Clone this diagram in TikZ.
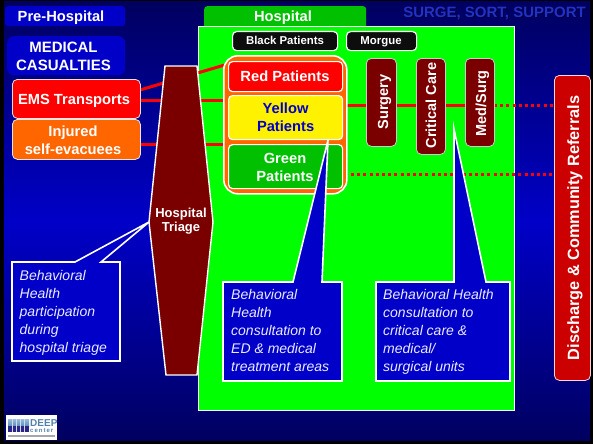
\documentclass[tikz,border=0pt]{standalone}
\usepackage{fontspec}
\setmainfont{Liberation Sans}
\definecolor{navy}{HTML}{000060}
\definecolor{midblue}{HTML}{0000C8}
\definecolor{hgreen}{HTML}{00FF00}
\definecolor{dgreen}{HTML}{00C000}
\definecolor{maroon}{HTML}{7A0000}
\definecolor{orangeb}{HTML}{FF6600}
\definecolor{dischg}{HTML}{CC0000}
\definecolor{titleblue}{HTML}{2232C8}
\definecolor{logoblue}{HTML}{5C8FC0}
\definecolor{logodark}{HTML}{2C2488}
\tikzset{
  tab/.style={rounded corners=3pt,fill=#1,draw=none},
  lab/.style={font=\bfseries\fontsize{#1}{18}\selectfont,text=white,align=center,inner sep=0pt},
  baselab/.style={font=\bfseries\fontsize{#1}{18}\selectfont,text=white,inner sep=0pt,anchor=base},
  pbox/.style={rounded corners=4pt,draw=white,line width=1.2pt,fill=#1},
  entrybox/.style={rounded corners=5pt,draw=white!80!gray,line width=0.8pt,fill=#1},
  unitbox/.style={rounded corners=5pt,draw=white!80!black,line width=0.8pt,fill=maroon},
  blackbox/.style={fill=black!95,draw=white,line width=1.2pt,rounded corners=4pt},
  callout/.style={draw=white,line width=1.6pt,fill=midblue,miter limit=10},
  note/.style={font=\itshape\fontsize{14}{18}\selectfont,text=white!92!blue,align=left,anchor=north west,inner sep=0pt},
  flow/.style={draw=red,line width=3pt},
  dotflow/.style={draw=red,line width=3pt,dash pattern=on 3pt off 3.2pt},
}
\begin{document}
\begin{tikzpicture}[x=1pt,y=-1pt]
\useasboundingbox (0,0) rectangle (593,444);
% frame and background
\fill[black] (0,0) rectangle (593,444);
\fill[top color=navy,bottom color=midblue] (4,2) rectangle (590,222);
\fill[top color=midblue,bottom color=navy] (4,222) rectangle (590,440);
% title
\node[font=\bfseries\fontsize{15}{15}\selectfont,text=navy!60!black,inner sep=0pt,anchor=east] at (587,14.2) {SURGE, SORT, SUPPORT};
\node (title) [font=\bfseries\fontsize{15}{15}\selectfont,text=titleblue,inner sep=0pt,anchor=east] at (586,13.2) {SURGE, SORT, SUPPORT};
% tabs
\node (pretab) [tab=midblue,minimum width=120pt,minimum height=20pt,anchor=north west] at (5,6) {};
\node (prelabel) [baselab=14.7] at (61,22) {Pre-Hospital};
\node (hosptab) [tab=dgreen,minimum width=162pt,minimum height=24pt,anchor=north west] at (204,6) {};
\node (hosplabel) [baselab=14.7] at (283,22) {Hospital};
% hospital
\node (hospital) [fill=hgreen,draw=white,line width=1.2pt,minimum width=316pt,minimum height=384pt,anchor=north west,inner sep=0pt] at (198,26) {};
% casualties
\node (medcas) [tab=midblue,rounded corners=7pt,minimum width=118pt,minimum height=39pt,anchor=north west] at (7,36) {};
\node (medlabel) [lab=15] at (63.5,56) {MEDICAL\\CASUALTIES};
% connectors
\coordinate (e1) at (140,90);
\coordinate (r1) at (228,64);
\coordinate (e2) at (140,100);
\coordinate (y1) at (228,100);
\coordinate (i1) at (140,144);
\coordinate (g1) at (228,144);
\coordinate (gr) at (346,105);
\coordinate (mr) at (494,105);
\coordinate (dl) at (554,105);
\coordinate (g2) at (351,174);
\coordinate (d2) at (554,174);
\draw[flow] (e1) -- (r1);
\draw[flow] (e2) -- (y1);
\draw[flow] (i1) -- (g1);
\draw[flow] (gr) -- (mr);
\draw[dotflow] (mr) -- (dl);
\draw[dotflow] (g2) -- (d2);
% entry boxes
\node (ems) [entrybox=red,minimum width=128pt,minimum height=39pt,anchor=north west] at (12,79) {};
\node (emslabel) [baselab=14.7] at (74,104.5) {EMS Transports};
\node (injured) [entrybox=orangeb,minimum width=128pt,minimum height=40pt,anchor=north west] at (12,119) {};
\node (injlabel) [lab=14.7] at (73,140) {Injured\\self-evacuees};
% patient group
\node (group) [fill=orangeb,draw=white,line width=1.6pt,rounded corners=14pt,minimum width=123pt,minimum height=138pt,anchor=north west] at (223,55) {};
\node (red) [pbox=red,minimum width=114pt,minimum height=30pt,anchor=north west] at (228,61) {};
\node (redlabel) [baselab=14.7] at (285,81) {Red Patients};
\node (yellow) [pbox=yellow,minimum width=114pt,minimum height=44pt,anchor=north west,lab=14.7,text=midblue] at (228,95) {Yellow\\Patients};
\node (green) [pbox=dgreen,minimum width=114pt,minimum height=44pt,anchor=north west] at (228,144) {};
\node (greenlabel) [lab=14.7] at (285,167) {Green\\Patients};
% units
\node (surgery) [unitbox,minimum width=30pt,minimum height=88pt,anchor=north west] at (366,58) {};
\node (surgerylab) [baselab=14.6,rotate=90] at (388,102) {Surgery};
\node (critical) [unitbox,minimum width=29pt,minimum height=96pt,anchor=north west] at (416,58) {};
\node (criticallab) [baselab=14.5,rotate=90] at (436,105.5) {Critical Care};
\node (medsurg) [unitbox,minimum width=29pt,minimum height=88pt,anchor=north west] at (465,58) {};
\node (medsurglab) [baselab=14.5,rotate=90] at (486,103.5) {Med/Surg};
% discharge
\node (discharge) [fill=dischg,draw=white!85!red,line width=0.8pt,rounded corners=5pt,minimum width=36pt,minimum height=305pt,anchor=north west] at (554,75) {};
\node (dischargelab) [baselab=16.3,rotate=90] at (579,228) {Discharge \& Community Referrals};
% black boxes
\node (blackp) [blackbox,minimum width=105pt,minimum height=19pt,anchor=north west] at (232,31) {};
\node (blackl) [baselab=11.4] at (285,45) {Black Patients};
\node (morgue) [blackbox,minimum width=70pt,minimum height=19pt,anchor=north west] at (346,31) {};
\node (morguel) [baselab=11.4] at (381,45) {Morgue};
% triage
\fill[maroon,draw=white,line width=1.4pt] (165,66) -- (197,66) -- (213,222) -- (197,375) -- (166,375) -- (149,222) -- cycle;
\node (triage) [lab=13,font=\bfseries\fontsize{13}{14}\selectfont] at (181,221) {Hospital\\Triage};
% callouts
\draw[callout] (12,262) -- (75,262) -- (149,222) -- (101,262) -- (120,262) -- (120,361) -- (12,361) -- cycle;
\node (n1) [note] at (19.5,270) {Behavioral\\Health\\participation\\during\\hospital triage};
\draw[callout] (223,282) -- (293,282) -- (328,140) -- (322,282) -- (342,282) -- (342,381) -- (223,381) -- cycle;
\node (n2) [note] at (231,289.5) {Behavioral\\Health\\consultation to\\ED \& medical\\treatment areas};
\draw[callout] (376,282) -- (454,282) -- (454,129) -- (486,282) -- (510,282) -- (510,381) -- (376,381) -- cycle;
\node (n3) [note] at (383,289.5) {Behavioral Health\\consultation to\\critical care \&\\medical/\\surgical units};
% logo
\node (logo) [fill=white,minimum width=51pt,minimum height=25pt,anchor=north west,inner sep=0pt] at (6,415) {};
\fill[top color=logoblue!60,bottom color=logoblue] (8,419) rectangle (29,426);
\fill[logodark] (8,426) rectangle (29,432);
\foreach \x in {12,16,20,24} \draw[white!70!logoblue,line width=.3pt] (\x,419) -- (\x,432);
\node (deep) [font=\bfseries\fontsize{10}{10}\selectfont,text=logoblue!90!black,inner sep=0pt,anchor=west] at (30,423) {DEEP};
\node (center) [font=\bfseries\fontsize{6}{6}\selectfont,text=logoblue!90!black,inner sep=0pt,anchor=west] at (30,431) {c\,e\,n\,t\,e\,r};
\fill[gray!70] (8,435) rectangle (55,437);
\end{tikzpicture}
\end{document}
